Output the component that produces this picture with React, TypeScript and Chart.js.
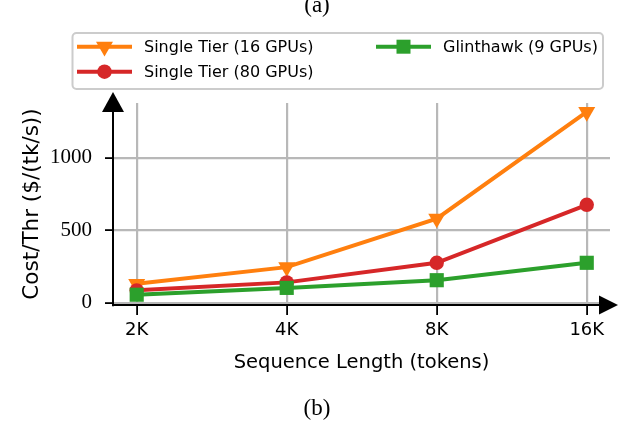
import React, { useEffect, useRef } from "react";
import { Chart, registerables } from "chart.js";

Chart.register(...registerables);

const CATEGORIES = ["2K", "4K", "8K", "16K"];
const SERIES_LABELS = ["Single Tier (16 GPUs)", "Single Tier (80 GPUs)", "Glinthawk (9 GPUs)"];
const SINGLE_16 = [130, 245, 580, 1315];
const SINGLE_80 = [85, 140, 275, 675];
const GLINTHAWK = [55, 102, 155, 275];
const Y_TICKS = [0, 500, 1000];
const COLORS = ["#ff7f0e", "#d62728", "#2ca02c"];
const STYLES = ["triangle", "circle", "rect"];
const X_TITLE = "Sequence Length (tokens)";
const Y_TITLE = "Cost/Thr ($/(tk/s))";
const TOP_TITLE = "(a)";
const BOTTOM_TITLE = "(b)";

const SANS = "'DejaVu Sans', sans-serif";
const SERIF = "'Liberation Serif', serif";

function drawMarker(ctx: CanvasRenderingContext2D, style: string, x: number, y: number, color: string) {
  ctx.save();
  ctx.fillStyle = color;
  ctx.beginPath();
  if (style === "triangle") {
    const r = 9.8;
    ctx.moveTo(x, y + r);
    ctx.lineTo(x - r * Math.sin(Math.PI / 3), y - r / 2);
    ctx.lineTo(x + r * Math.sin(Math.PI / 3), y - r / 2);
    ctx.closePath();
  } else if (style === "circle") {
    ctx.arc(x, y, 7.2, 0, Math.PI * 2);
  } else {
    const s = 7;
    ctx.rect(x - s, y - s, 2 * s, 2 * s);
  }
  ctx.fill();
  ctx.restore();
}

const decorPlugin = {
  id: "decor",
  afterDraw(chart: any) {
    const ctx: CanvasRenderingContext2D = chart.ctx;
    const a = chart.chartArea;
    ctx.save();
    // axis arrows
    ctx.fillStyle = "#000";
    ctx.strokeStyle = "#000";
    ctx.lineWidth = 2;
    ctx.beginPath();
    ctx.moveTo(a.left, a.top);
    ctx.lineTo(a.left, a.top - 2);
    ctx.stroke();
    ctx.beginPath();
    ctx.moveTo(a.left, a.top - 11);
    ctx.lineTo(a.left - 11, a.top + 9);
    ctx.lineTo(a.left + 11, a.top + 9);
    ctx.closePath();
    ctx.fill();
    ctx.beginPath();
    ctx.moveTo(a.right + 8, a.bottom);
    ctx.lineTo(a.right - 11, a.bottom - 9.5);
    ctx.lineTo(a.right - 11, a.bottom + 9.5);
    ctx.closePath();
    ctx.fill();

    // titles
    ctx.fillStyle = "#000";
    ctx.textAlign = "center";
    ctx.textBaseline = "middle";
    ctx.font = `23px ${SERIF}`;
    ctx.fillText(TOP_TITLE, 317, 6);
    ctx.fillText(BOTTOM_TITLE, 317, 409);
    ctx.font = `19.5px ${SANS}`;
    ctx.fillText(X_TITLE, (a.left + a.right) / 2, 363);
    ctx.save();
    ctx.translate(32, (a.top + a.bottom) / 2);
    ctx.rotate(-Math.PI / 2);
    ctx.font = `21.5px ${SANS}`;
    ctx.fillText(Y_TITLE, 0, 0);
    ctx.restore();

    // legend
    const bx = 72.5, by = 33, bw = 530.5, bh = 56;
    ctx.beginPath();
    ctx.roundRect(bx, by, bw, bh, 4);
    ctx.fillStyle = "rgba(255,255,255,0.85)";
    ctx.fill();
    ctx.strokeStyle = "#cccccc";
    ctx.lineWidth = 2;
    ctx.stroke();
    const slots = [
      { x: 77, y: 46.7 },
      { x: 77, y: 71.7 },
      { x: 376, y: 46.7 },
    ];
    ctx.font = `16px ${SANS}`;
    ctx.textAlign = "left";
    ctx.textBaseline = "middle";
    SERIES_LABELS.forEach((label, i) => {
      const s = slots[i];
      ctx.strokeStyle = COLORS[i];
      ctx.lineWidth = 4;
      ctx.beginPath();
      ctx.moveTo(s.x, s.y);
      ctx.lineTo(s.x + 55, s.y);
      ctx.stroke();
      drawMarker(ctx, STYLES[i], s.x + 27.5, s.y, COLORS[i]);
      ctx.fillStyle = "#000";
      ctx.fillText(label, s.x + 67, s.y + 1);
    });
    ctx.restore();
  },
};

export default function App() {
  const ref = useRef<HTMLCanvasElement>(null);
  useEffect(() => {
    if (!ref.current) return;
    const all = [SINGLE_16, SINGLE_80, GLINTHAWK];
    const chart = new Chart(ref.current, {
      type: "line",
      data: {
        datasets: all.map((vals, i) => ({
          label: SERIES_LABELS[i],
          data: vals.map((v, j) => ({ x: j, y: v })),
          borderColor: COLORS[i],
          backgroundColor: COLORS[i],
          borderWidth: 4,
          pointStyle: STYLES[i] as any,
          pointRotation: i === 0 ? 180 : 0,
          pointRadius: i === 0 ? 9.8 : i === 1 ? 7.2 : 10,
          pointBorderWidth: 0,
          order: 2 - i,
          clip: false as any,
          tension: 0,
        })),
      },
      options: {
        animation: false,
        responsive: false,
        events: [],
        layout: { padding: { top: 103, right: 14, bottom: 0, left: 0 } },
        plugins: { legend: { display: false }, tooltip: { enabled: false } },
        scales: {
          x: {
            type: "linear",
            min: -0.158,
            max: 3.155,
            afterBuildTicks: (s: any) => {
              s.ticks = CATEGORIES.map((_, i) => ({ value: i }));
            },
            afterFit: (s: any) => {
              s.height = 118;
            },
            ticks: {
              callback: (v: any) => CATEGORIES[Math.round(Number(v))] ?? "",
              color: "#000",
              font: { family: SANS, size: 18 },
              padding: 5,
              maxRotation: 0,
              autoSkip: false,
            },
            grid: { color: "#b8b8b8", lineWidth: 2.2, tickColor: "#000", tickLength: 10, tickWidth: 1.8 },
            border: { display: true, color: "#000", width: 2 },
          },
          y: {
            type: "linear",
            min: -16,
            max: 1377,
            afterBuildTicks: (s: any) => {
              s.ticks = Y_TICKS.map((v) => ({ value: v }));
            },
            afterFit: (s: any) => {
              s.width = 113;
            },
            ticks: {
              callback: (v: any) => String(v),
              color: "#000",
              font: { family: SERIF, size: 21 },
              padding: 13,
            },
            grid: { color: "#b8b8b8", lineWidth: 2.2, tickColor: "#000", tickLength: 8, tickWidth: 1.8 },
            border: { display: true, color: "#000", width: 2 },
          },
        },
      },
      plugins: [decorPlugin],
    });
    return () => chart.destroy();
  }, []);
  return (
    <div style={{ position: "absolute", left: 0, top: 0, width: 624, height: 423, background: "#fff" }}>
      <canvas ref={ref} width={624} height={423} />
    </div>
  );
}
